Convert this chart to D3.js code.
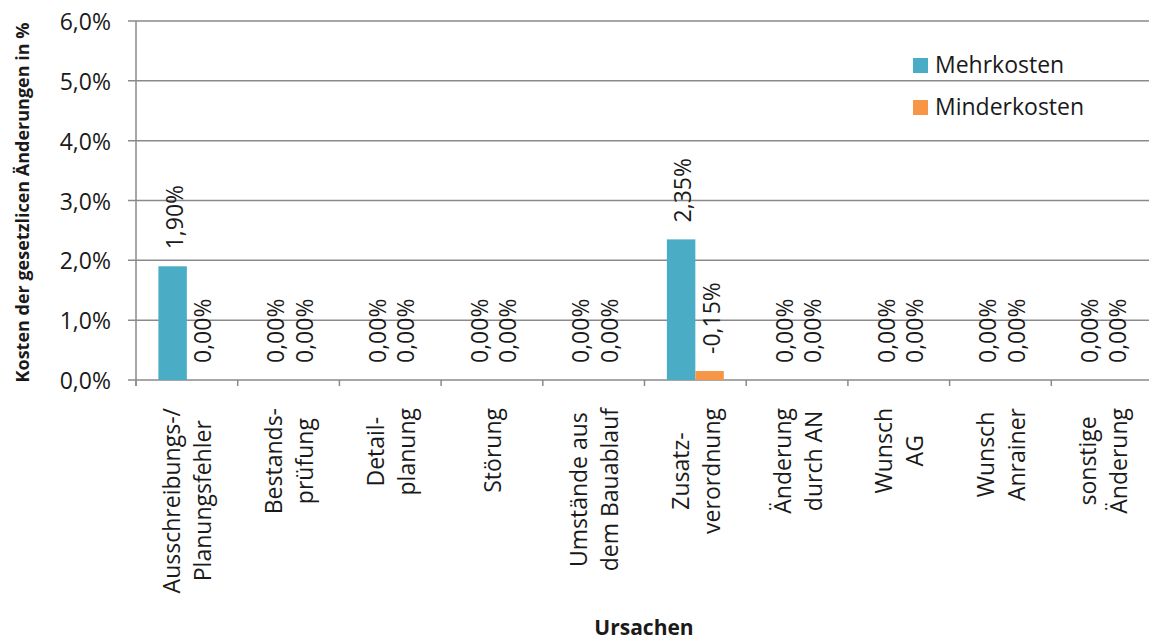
<!DOCTYPE html>
<html>
<head>
<meta charset="utf-8">
<script src="https://cdn.jsdelivr.net/npm/d3@7"></script>
<style>
  html, body { margin: 0; padding: 0; background: #fff; }
  svg { display: block; }
  text { font-family: "Open Sans", "Noto Sans", sans-serif; fill: #1a1a1a; }
</style>
</head>
<body>
<svg id="chart" width="1149" height="641"></svg>
<script>
// Ursachen (categories), label lines split as in the axis
const categories = [
  ["Ausschreibungs-/", "Planungsfehler"],
  ["Bestands-", "prüfung"],
  ["Detail-", "planung"],
  ["Störung"],
  ["Umstände aus", "dem Bauablauf"],
  ["Zusatz-", "verordnung"],
  ["Änderung", "durch AN"],
  ["Wunsch", "AG"],
  ["Wunsch", "Anrainer"],
  ["sonstige", "Änderung"]
];
const seriesNames = ["Mehrkosten", "Minderkosten"];
const mehrkosten   = [1.90, 0, 0, 0, 0, 2.35, 0, 0, 0, 0];
const minderkosten = [0, 0, 0, 0, 0, -0.15, 0, 0, 0, 0];
const seriesColors = ["#4BACC6", "#F79646"];
const yTicks = [0, 1, 2, 3, 4, 5, 6];

const svg = d3.select("#chart");
const margin = { left: 136, top: 21, right: -4, bottom: 261 };
const W = 1149, H = 641;
const plotW = W - margin.left - margin.right;
const plotH = H - margin.top - margin.bottom;
const fs = "23px";

const g = svg.append("g").attr("transform", `translate(${margin.left},${margin.top})`);

const x0 = d3.scaleBand().domain(d3.range(categories.length)).range([0, plotW]).padding(0);
const gap = x0.bandwidth() * 0.22;
const x1 = d3.scaleBand().domain([0, 1]).range([gap, x0.bandwidth() - gap]).padding(0);
const y = d3.scaleLinear().domain([0, 6]).range([plotH, 0]);

const fmtTick = v => d3.format(".1f")(v).replace(".", ",") + "%";
const fmtVal = v => d3.format(".2f")(v).replace(".", ",").replace("\u2212", "-") + "%";
const gridColor = "#8a8a8a";

// horizontal gridlines with tick marks to the left of the axis
g.append("g").selectAll("line").data(yTicks).join("line")
  .attr("x1", -8).attr("x2", plotW)
  .attr("y1", d => y(d)).attr("y2", d => y(d))
  .attr("stroke", gridColor).attr("stroke-width", 1.5);

// y tick labels
g.append("g").selectAll("text").data(yTicks).join("text")
  .attr("x", -25).attr("y", d => y(d))
  .attr("text-anchor", "end").attr("dominant-baseline", "central")
  .style("font-size", fs)
  .text(fmtTick);

// y axis line
g.append("line").attr("x1", 0).attr("x2", 0).attr("y1", 0).attr("y2", plotH + 6)
  .attr("stroke", gridColor).attr("stroke-width", 1.5);

// category boundary ticks
g.append("g").selectAll("line").data(d3.range(categories.length + 1)).join("line")
  .attr("x1", d => d * x0.step()).attr("x2", d => d * x0.step())
  .attr("y1", plotH).attr("y2", plotH + 6)
  .attr("stroke", gridColor).attr("stroke-width", 1.5);

// bars and value labels
const rows = categories.map((c, i) => [mehrkosten[i], minderkosten[i]]);
const groups = g.append("g").selectAll("g").data(rows).join("g")
  .attr("transform", (d, i) => `translate(${x0(i)},0)`);

groups.selectAll("rect").data(d => d).join("rect")
  .attr("x", (d, j) => x1(j))
  .attr("width", x1.bandwidth())
  .attr("y", d => y(Math.abs(d)))
  .attr("height", d => y(0) - y(Math.abs(d)))
  .attr("fill", (d, j) => seriesColors[j]);

groups.selectAll("text").data(d => d).join("text")
  .attr("transform", (d, j) => `translate(${x1(j) + x1.bandwidth() / 2 + 1},${y(Math.abs(d)) - 17}) rotate(-90)`)
  .attr("text-anchor", "start").attr("dominant-baseline", "central")
  .style("font-size", fs)
  .text(fmtVal);

// category labels, rotated, lines centred on each other, block starting under the axis
const lineGap = 31;
const labelTop = plotH + 28;
const catG = g.append("g");
categories.forEach((lines, i) => {
  const cx = x0(i) + x0.bandwidth() / 2;
  const texts = lines.map(t => catG.append("text")
    .style("font-size", fs)
    .attr("text-anchor", "middle").attr("dominant-baseline", "central")
    .text(t));
  const maxLen = d3.max(texts, t => t.node().getComputedTextLength());
  const cy = labelTop + maxLen / 2;
  texts.forEach((t, k) => {
    const dx = (k - (lines.length - 1) / 2) * lineGap;
    t.attr("transform", `translate(${cx + dx},${cy}) rotate(-90)`);
  });
});

// axis titles
svg.append("text")
  .attr("transform", `translate(22,${margin.top + plotH / 2 + 2}) rotate(-90)`)
  .attr("text-anchor", "middle").attr("dominant-baseline", "central")
  .style("font-size", "18px").style("font-weight", "bold")
  .text("Kosten der gesetzlicen Änderungen in %");

svg.append("text")
  .attr("x", 644).attr("y", 635)
  .attr("text-anchor", "middle")
  .style("font-size", "21px").style("font-weight", "bold")
  .text("Ursachen");

// legend
const legend = svg.append("g").attr("transform", "translate(913,58)");
seriesNames.forEach((name, i) => {
  const row = legend.append("g").attr("transform", `translate(0,${i * 42})`);
  row.append("rect").attr("width", 15).attr("height", 15).attr("fill", seriesColors[i]);
  row.append("text").attr("x", 22).attr("y", 15)
    .style("font-size", fs).text(name);
});
</script>
</body>
</html>
